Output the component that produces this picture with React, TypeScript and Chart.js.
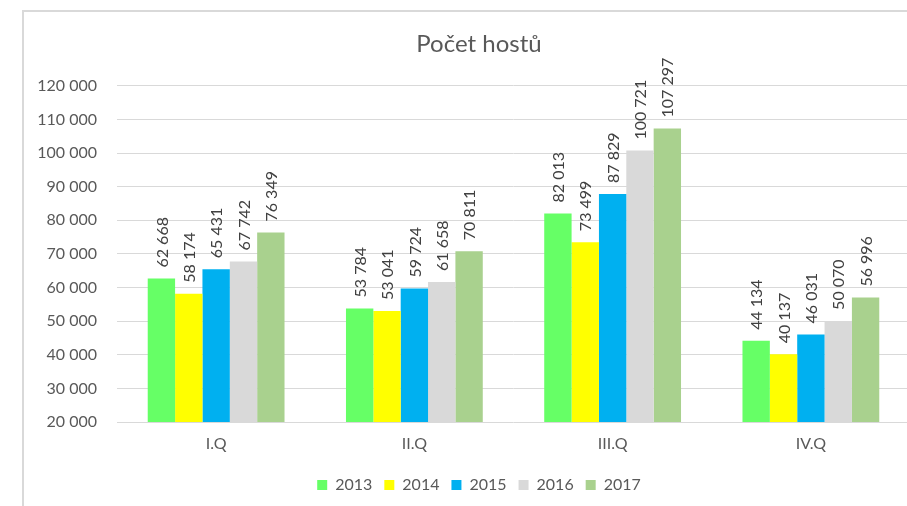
import React, { useEffect, useRef } from "react";
import { Chart, registerables } from "chart.js";

Chart.register(...registerables);

const categories = ["I.Q", "II.Q", "III.Q", "IV.Q"];
const years = ["2013", "2014", "2015", "2016", "2017"];
const values2013 = [62668, 53784, 82013, 44134];
const values2014 = [58174, 53041, 73499, 40137];
const values2015 = [65431, 59724, 87829, 46031];
const values2016 = [67742, 61658, 100721, 50070];
const values2017 = [76349, 70811, 107297, 56996];
const colors = ["#66FF66", "#FFFF00", "#00B0F0", "#D9D9D9", "#A9D18E"];
const yTickLabels = [
  "20 000", "30 000", "40 000", "50 000", "60 000", "70 000",
  "80 000", "90 000", "100 000", "110 000", "120 000",
];
const titleText = "Počet hostů";

const FONT = "Lato, 'Open Sans', sans-serif";

function fmt(n: number): string {
  return String(n).replace(/\B(?=(\d{3})+(?!\d))/g, " ");
}

const dataLabelPlugin = {
  id: "dataLabels",
  afterDatasetsDraw(chart: any) {
    const ctx = chart.ctx;
    ctx.save();
    ctx.font = `16px ${FONT}`;
    ctx.fillStyle = "#404040";
    ctx.textAlign = "left";
    ctx.textBaseline = "middle";
    chart.data.datasets.forEach((ds: any, di: number) => {
      const meta = chart.getDatasetMeta(di);
      meta.data.forEach((bar: any, i: number) => {
        const v = ds.data[i];
        ctx.save();
        ctx.translate(bar.x + 1, bar.y - 11);
        ctx.rotate(-Math.PI / 2);
        ctx.fillText(fmt(v), 0, 0);
        ctx.restore();
      });
    });
    ctx.restore();
  },
};

export default function App() {
  const ref = useRef<HTMLCanvasElement>(null);
  useEffect(() => {
    if (!ref.current) return;
    const series = [values2013, values2014, values2015, values2016, values2017];
    const chart = new Chart(ref.current, {
      type: "bar",
      data: {
        labels: categories,
        datasets: series.map((d, i) => ({
          label: years[i],
          data: d,
          backgroundColor: colors[i],
          borderWidth: 0,
          categoryPercentage: 0.69,
          barPercentage: 1,
        })),
      },
      options: {
        responsive: false,
        animation: false,
        layout: { padding: { left: 24, right: 4, top: 0, bottom: 3 } },
        plugins: {
          title: {
            display: true,
            text: titleText,
            color: "#595959",
            font: { family: FONT, size: 24, weight: "normal" },
            padding: { top: 18, bottom: 27 },
          },
          legend: {
            position: "bottom",
            labels: {
              boxWidth: 10,
              boxHeight: 10,
              padding: 12,
              color: "#595959",
              font: { family: FONT, size: 16 },
            },
          },
          tooltip: { enabled: false },
        },
        scales: {
          x: {
            grid: { display: false },
            border: { display: false },
            ticks: {
              color: "#595959",
              font: { family: FONT, size: 16 },
              padding: 4,
            },
            afterFit: (s: any) => {
              s.height = 43;
            },
          },
          y: {
            min: 20000,
            max: 120000,
            grid: { color: "#D9D9D9", drawTicks: false, lineWidth: 1 },
            border: { display: false },
            ticks: {
              stepSize: 10000,
              color: "#595959",
              font: { family: FONT, size: 16 },
              padding: 20,
              callback: (_v: any, i: number) => yTickLabels[i],
            },
            afterFit: (s: any) => {
              s.width = 69;
              s._computeLabelArea = () => undefined;
            },
          },
        },
      },
      plugins: [dataLabelPlugin],
    });
    return () => chart.destroy();
  }, []);

  return (
    <div
      style={{
        position: "fixed",
        left: 0,
        top: 0,
        width: 907,
        height: 506,
        overflow: "hidden",
        background: "#fff",
      }}
    >
      <div
        style={{
          position: "absolute",
          left: 22,
          top: 10,
          width: 2000,
          height: 2000,
          borderLeft: "2px solid #D9D9D9",
          borderTop: "2px solid #D9D9D9",
        }}
      />
      <canvas
        ref={ref}
        width={890}
        height={494}
        style={{ position: "absolute", left: 24, top: 12, display: "block" }}
      />
    </div>
  );
}
